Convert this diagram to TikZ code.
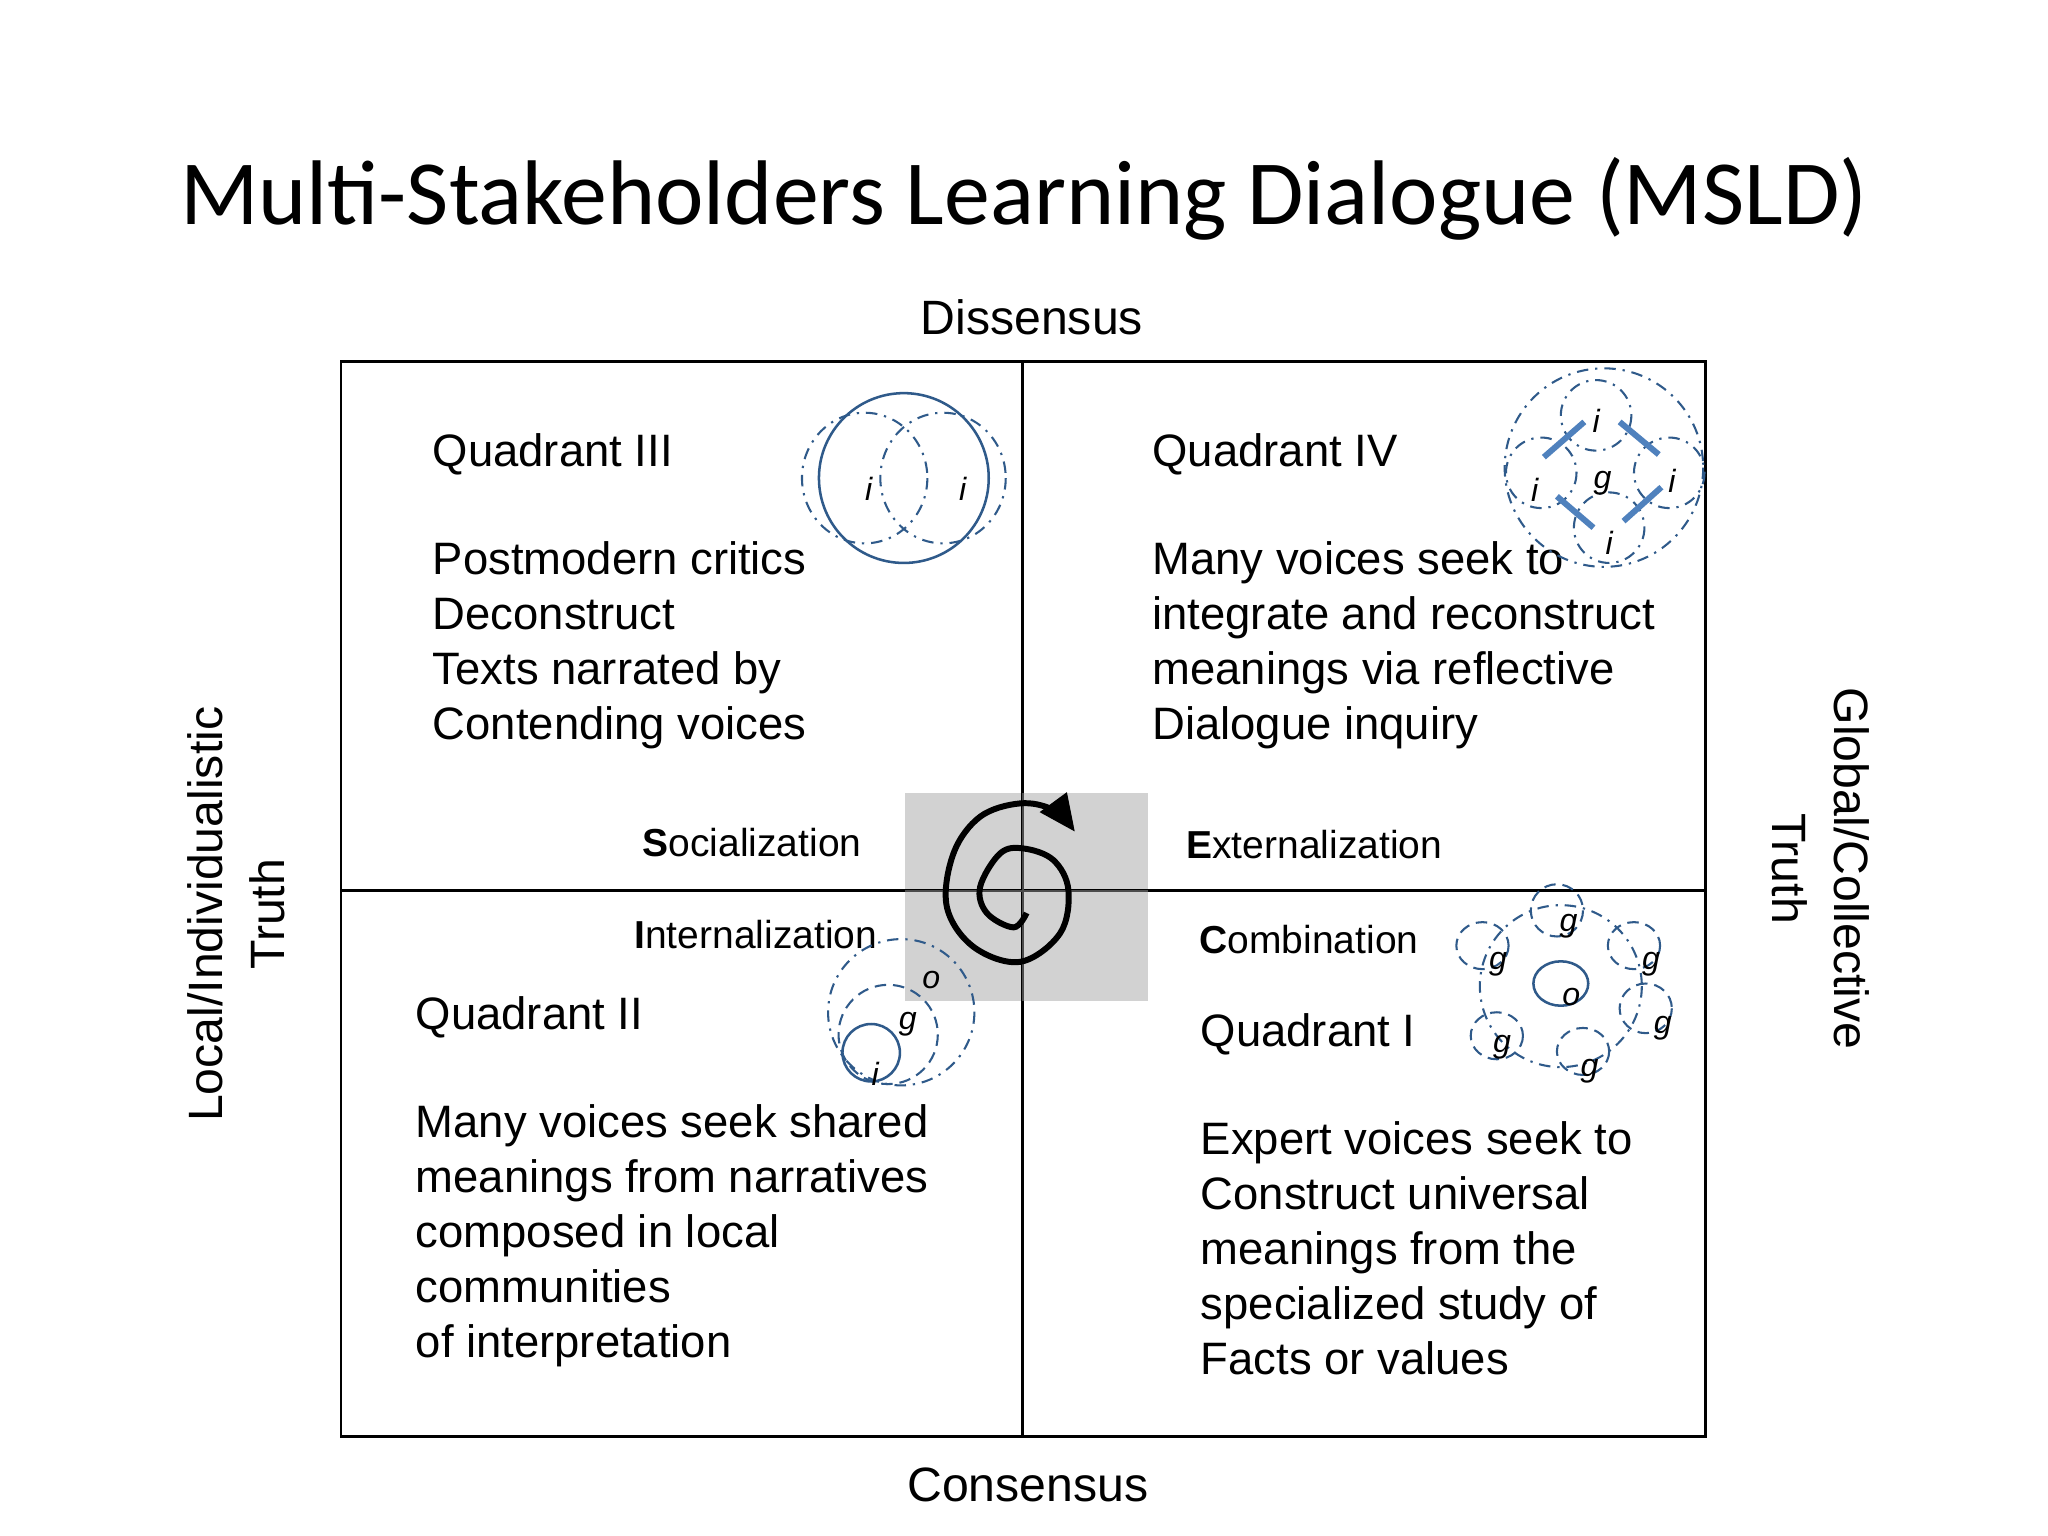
\documentclass[tikz,border=0pt]{standalone}
\usepackage{fontspec}
\usetikzlibrary{arrows.meta}
\setmainfont{Liberation Sans}
\newfontfamily\titlefont{Carlito}
\begin{document}
\begin{tikzpicture}[x=0.02cm,y=-0.02cm,
  body/.style={anchor=base west,inner sep=0pt,font=\fontsize{19.8}{24}\selectfont},
  lbl/.style={inner sep=0pt,font=\fontsize{17}{20}\selectfont},
  let/.style={inner sep=0pt,font=\fontsize{14}{16}\selectfont\itshape},
  frame/.style={line width=1.2pt,black},
  dd/.style={draw=cblue,line width=0.9pt,dash pattern=on 5pt off 3pt on 1pt off 3pt},
  dsh/.style={draw=cblue,line width=0.9pt,dash pattern=on 5pt off 3pt},
  sol/.style={draw=cblue,line width=1.1pt}]
\definecolor{cblue}{HTML}{2F5A8A}
\definecolor{lblue}{HTML}{4F81BD}
\useasboundingbox (0,0) rectangle (1568,1176);
\fill[white] (0,0) rectangle (1568,1176);
\node[inner sep=0pt,font=\fontsize{40}{44}\selectfont\titlefont] (title) at (784,152) {Multi-Stakeholders Learning Dialogue (MSLD)};
\node[inner sep=0pt,font=\fontsize{21}{24}\selectfont] (dis) at (790,243) {Dissensus};
\node[inner sep=0pt,font=\fontsize{21}{24}\selectfont] (con) at (787,1137) {Consensus};
\node[rotate=90,align=center,inner sep=0pt,font=\fontsize{21}{27}\selectfont] (loc) at (181,700) {Local/Individualistic\\Truth};
\node[rotate=-90,align=center,inner sep=0pt,font=\fontsize{21}{27}\selectfont] (glo) at (1394,665) {Global/Collective\\Truth};
% gray image and spiral
\fill[gray!35] (693,607) rectangle (879,766);
\coordinate (tl) at (261,277); \coordinate (br) at (1306,1100);
\draw[frame] (tl) rectangle (br);
\draw[frame] (783,277) -- (783,1100);
\draw[frame] (261,682) -- (1306,682);
\draw[line width=0.8pt,gray!60!black] (693,682) -- (879,682) (783,607) -- (783,766);
\draw[line width=2.6pt,-{Triangle[length=16pt,width=14pt]}] plot[smooth,tension=0.6] coordinates {(786,699) (776,710) (755.5,699) (750.4,679) (765.7,653.4) (783.6,649.6) (806.5,658.5) (818,681.5) (811.6,714.6) (781,736.4) (745.3,724.9) (724.9,694.2) (730,653.4) (750.4,625.3) (781,615.1) (806.5,620.2) (823,636.8)};
% Q3 text
\node[body] (q3) at (331,357) {Quadrant III};
\node[body] (q3a) at (331,440) {Postmodern critics};
\node[body] (q3b) at (331,482) {Deconstruct};
\node[body] (q3c) at (331,524) {Texts narrated by};
\node[body] (q3d) at (331,566) {Contending voices};
% Q4 text
\node[body] (q4) at (882,357) {Quadrant IV};
\node[body] (q4a) at (882,440) {Many voices seek to};
\node[body] (q4b) at (882,482) {integrate and reconstruct};
\node[body] (q4c) at (882,524) {meanings via reflective};
\node[body] (q4d) at (882,566) {Dialogue inquiry};
% Q2 text
\node[body] (q2) at (318,788) {Quadrant II};
\node[body] (q2a) at (318,871) {Many voices seek shared};
\node[body] (q2b) at (318,913) {meanings from narratives};
\node[body] (q2c) at (318,955) {composed in local};
\node[body] (q2d) at (318,997) {communities};
\node[body] (q2e) at (318,1039) {of interpretation};
% Q1 text
\node[body] (q1) at (919,801) {Quadrant I};
\node[body] (q1a) at (919,884) {Expert voices seek to};
\node[body] (q1b) at (919,926) {Construct universal};
\node[body] (q1c) at (919,968) {meanings from the};
\node[body] (q1d) at (919,1010) {specialized study of};
\node[body] (q1e) at (919,1052) {Facts or values};
% labels
\node[lbl,anchor=base east] (soc) at (660,656) {\textbf{S}ocialization};
\node[lbl,anchor=base west] (ext) at (908,657) {\textbf{E}xternalization};
\node[lbl,anchor=base east] (int) at (672,726) {\textbf{I}nternalization};
\node[lbl,anchor=base west] (com) at (918,730) {\textbf{C}ombination};
% Q3 circles
\draw[sol] (692,366) circle (65);
\draw[dd] (662,366) ellipse (48 and 50);
\draw[dd] (722,366) ellipse (48 and 50);
\node[let] (i1) at (665,374) {i};
\node[let] (i2) at (737,374) {i};
% Q4 circles
\draw[dd] (1228,358) circle (76);
\draw[dd] (1222,318) circle (27);
\draw[dd] (1180,362) circle (27);
\draw[dd] (1278,362) circle (27);
\draw[dd] (1232,404) circle (27);
\draw[lblue,line width=2.6pt] (1182,350) -- (1213,323) (1240,323) -- (1270,348) (1192,380) -- (1220,404) (1243,399) -- (1272,373);
\node[let] (gi1) at (1222,322) {i};
\node[let] (gi2) at (1175,375) {i};
\node[let] (gi3) at (1280,368) {i};
\node[let] (gi4) at (1232,416) {i};
\node[let] (gg) at (1227,370) {g};
% Q2 circles
\draw[dd] (690,775) circle (56);
\draw[dsh] (680,792) circle (38);
\draw[sol] (667,806) circle (22);
\node[let] (o2) at (713,750) {o};
\node[let] (g2) at (695,784) {g};
\node[let] (i3) at (670,822) {i};
% Q1 circles
\draw[dd] (1195,755) circle (62);
\draw[sol] (1195,753) ellipse (21 and 17);
\node[let] (o1) at (1203,763) {o};
\draw[dsh] (1192,697) circle (20);
\draw[dsh] (1135,724) ellipse (20 and 18);
\draw[dsh] (1251,724) ellipse (20 and 18);
\draw[dsh] (1260,772) ellipse (20 and 19);
\draw[dsh] (1212,805) ellipse (20 and 18);
\draw[dsh] (1146,793) ellipse (20 and 18);
\node[let] (ga) at (1201,709) {g};
\node[let] (gb) at (1147,738) {g};
\node[let] (gc) at (1264,738) {g};
\node[let] (gd) at (1273,787) {g};
\node[let] (ge) at (1217,820) {g};
\node[let] (gf) at (1150,802) {g};
\end{tikzpicture}
\end{document}
